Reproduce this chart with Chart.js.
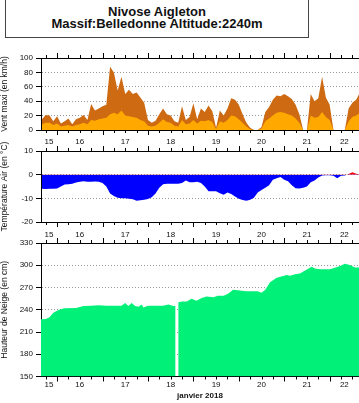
<!DOCTYPE html>
<html>
<head>
<meta charset="utf-8">
<script src="https://cdn.jsdelivr.net/npm/chart.js@4.4.1/dist/chart.umd.min.js"></script>
<style>
  body { margin: 0; background: #fff; width: 359px; height: 403px; overflow: hidden; position: relative;
         font-family: 'Liberation Sans', Arial, sans-serif; }
  #title { position: absolute; left: 5px; top: -1px; width: 302px; height: 37px; border: 1px solid #444;
           text-align: center; font-weight: bold; font-size: 13px; line-height: 12px; color: #111; }
  canvas { position: absolute; left: 0; }
</style>
</head>
<body>
<div id="title"><div style="margin-top:6px">Nivose Aigleton</div><div>Massif:Belledonne Altitude:2240m</div></div>
<canvas id="wind" width="359" height="112" style="top:38px"></canvas>
<canvas id="temp" width="359" height="102" style="top:140px"></canvas>
<canvas id="snow" width="359" height="171" style="top:232px"></canvas>
<script>
// hours counted from 15 janvier 2018 00:00
const dayLabels = ['15', '16', '17', '18', '19', '20', '21', '22'];

const hours = [];
for (let h = 16; h <= 184; h += 2) hours.push(h);

// vent maxi (dark) and vent moyen (light), km/h, every 2 h
const windMax = [
  15, 21, 20, 12, 19, 9, 12, 16, 8, 15, 17, 21,
  14, 36, 27, 30, 33, 35, 88, 80, 55, 74, 50, 56,
  50, 52, 45, 38, 14, 10, 13, 22, 30, 22, 20, 12,
  10, 33, 14, 18, 37, 15, 30, 25, 34, 26, 3, 27,
  20, 30, 44, 42, 35, 22, 10, 3, 0, 0, 4, 25,
  32, 42, 48, 47, 50, 47, 43, 35, 22, 0, 0, 50,
  40, 44, 74, 45, 35, 0, 0, 0, 0, 30, 38, 42,
  52
];
const windMean = [
  8, 10, 10, 7, 9, 5, 6, 7, 5, 7, 8, 10,
  8, 14, 13, 15, 16, 17, 22, 24, 22, 27, 20, 19,
  18, 17, 14, 12, 6, 5, 6, 10, 15, 11, 10, 6,
  5, 14, 8, 9, 14, 9, 13, 12, 14, 11, 1, 12,
  10, 14, 20, 19, 15, 10, 5, 1, 0, 0, 2, 12,
  16, 20, 24, 25, 24, 22, 20, 16, 10, 0, 0, 20,
  17, 18, 25, 18, 14, 0, 0, 0, 0, 12, 18, 20,
  24
];

// température de l'air, °C, every 2 h
const tempAir = [
  -6, -6.1, -6, -6, -5.8, -5, -4.2, -4, -3.8, -3.3, -3, -2.8,
  -3, -3, -2.9, -3, -3.5, -5, -8, -9, -9.8, -10, -10, -10.2,
  -10.4, -11, -10.8, -10.6, -10.3, -9.5, -8, -5.5, -4, -3.8, -3.8, -3.8,
  -3.8, -3.5, -2.5, -3.2, -3.2, -3, -3.5, -5, -7, -7, -7, -7.8,
  -8.5, -7.5, -8.2, -9.2, -10.2, -10.7, -11, -10.6, -9.8, -7.5, -6.5, -5.5,
  -4.5, -2.2, -1.5, -1, -2.2, -2.8, -4.5, -5.7, -5.8, -5.5, -5, -3.2,
  -2.5, -1.2, -0.3, -0.2, -0.2, -0.5, -1.5, -0.5, -0.4, 0.3, 1, 0.4,
  0.1
];

// hauteur de neige, cm (null = missing measure)
const snowHours = [
  15, 18, 20, 22, 25, 28, 34, 38, 42, 46, 50, 58, 60, 61.6, 63.4, 65.2, 67, 68.7, 69.6,
  72, 80, 82.8, 85.4, 86.6, 87.3, 88, 90, 92.5, 95, 97.7, 100.4, 103, 106.5, 109, 112,
  114.5, 117, 120.5, 124, 130, 132, 134, 136.5, 140, 143.5, 145.3, 147, 149.7, 152.3,
  155, 158.5, 160.2, 163, 168, 170, 173.5, 176, 178.7, 181.4, 184
];
const snowCm = [
  227, 227.5, 230, 236, 240, 242, 242.5, 245, 245.5, 246, 245.5, 245.5, 249, 245, 249, 245, 244, 247, 243,
  245.5, 245.5, 247, 245, 245.5, null, 250, 251, 251, 255, 252, 256, 258, 257, 259, 259,
  262, 267, 266, 265, 265, 263, 267, 277, 283, 285.5, 287, 286, 288, 289,
  293, 298, 295.5, 294.5, 294.5, 296, 299, 302, 300.5, 297, 297
];

const xMin = 15.5, xMax = 183.5;
const dayTicks = dayLabels.map((d, i) => (Math.max(xMin, i * 24) + Math.min(xMax, (i + 1) * 24)) / 2);

const font = { family: "'Liberation Sans', Arial, sans-serif", size: 8 };

// top border + 6-hour tick marks on top and bottom edges
const edgeTicks = {
  id: 'edgeTicks',
  afterDraw(chart) {
    const { ctx, chartArea: a } = chart;
    const x = chart.scales.x;
    ctx.save();
    ctx.strokeStyle = '#000';
    ctx.lineWidth = 1;
    ctx.beginPath();
    ctx.moveTo(a.left, Math.round(a.top) + 0.5);
    ctx.lineTo(a.right, Math.round(a.top) + 0.5);
    for (let h = Math.ceil(xMin / 6) * 6; h <= xMax; h += 6) {
      const px = Math.round(x.getPixelForValue(h)) + 0.5;
      const len = h % 24 === 0 ? 5 : 3;
      ctx.moveTo(px, a.top); ctx.lineTo(px, a.top - len);
      ctx.moveTo(px, a.bottom); ctx.lineTo(px, a.bottom + len);
    }
    ctx.stroke();
    ctx.restore();
  }
};

const pts = (xs, ys) => xs.map((h, i) => ({ x: h, y: ys[i] }));

function makeChart(id, datasets, o) {
  return new Chart(document.getElementById(id), {
    type: 'line',
    data: { datasets },
    plugins: [edgeTicks],
    options: {
      responsive: false,
      animation: false,
      devicePixelRatio: 1,
      layout: { padding: { top: o.padTop, right: 0, bottom: 0, left: 0 } },
      plugins: { legend: { display: false }, tooltip: { enabled: false } },
      elements: { point: { radius: 0 }, line: { borderWidth: 0, tension: 0 } },
      scales: {
        x: {
          type: 'linear', min: xMin, max: xMax,
          grid: { display: false, drawTicks: false },
          border: { color: '#000' },
          afterBuildTicks: axis => { axis.ticks = dayTicks.map(v => ({ value: v })); },
          afterFit: axis => { axis.height = o.xHeight; },
          ticks: { autoSkip: false, maxRotation: 0, padding: o.xPad, color: '#111', font,
                   callback: (v, i) => dayLabels[i] },
          title: o.xTitle
            ? { display: true, text: o.xTitle, color: '#111', font: { ...font, weight: 'bold' }, padding: { top: 0, bottom: 2 } }
            : { display: false }
        },
        y: {
          min: o.min, max: o.max,
          afterFit: axis => { axis.width = 41; },
          grid: { color: '#999', tickLength: 5,
                  tickColor: c => (c.tick && c.tick.value % o.label === 0 ? '#000' : 'rgba(0,0,0,0)') },
          border: { color: '#000', dash: [1, 2] },
          ticks: { stepSize: o.step, padding: 3, color: '#111', font,
                   callback: v => (v % o.label === 0 ? v : '') },
          title: { display: true, text: o.yTitle, color: '#111', font: { ...font, size: 8.5 }, padding: 0 }
        }
      }
    }
  });
}

makeChart('wind', [
  { data: pts(hours, windMean), backgroundColor: '#ffa800', fill: 'origin' },
  { data: pts(hours, windMax), backgroundColor: '#cd6a12', fill: 'origin' }
], { padTop: 20, xHeight: 20, xPad: 7, min: 0, max: 100, step: 10, label: 20, yTitle: 'Vent maxi (en km/h)' });

makeChart('temp', [
  { data: pts(hours, tempAir), fill: { target: 'origin', above: '#ff0000', below: '#0000ff' } }
], { padTop: 11, xHeight: 20, xPad: 8, min: -20, max: 10, step: 5, label: 10, yTitle: 'Température Air (en °C)' });

makeChart('snow', [
  { data: pts(snowHours, snowCm), backgroundColor: '#00f078', fill: 'start', spanGaps: false }
], { padTop: 11, xHeight: 26.5, xPad: 3, min: 150, max: 330, step: 15, label: 30,
     yTitle: 'Hauteur de Neige (en cm)', xTitle: 'janvier 2018' });
</script>
</body>
</html>
